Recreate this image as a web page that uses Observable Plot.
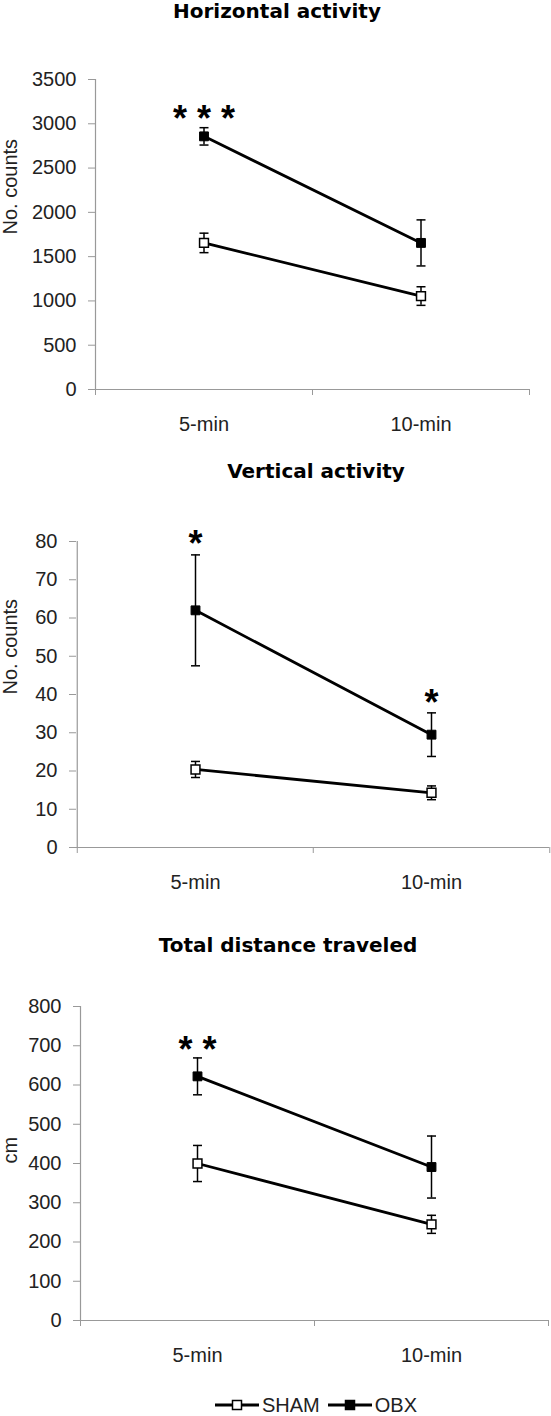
<!DOCTYPE html>
<html><head><meta charset="utf-8">
<script src="https://cdn.jsdelivr.net/npm/d3@7"></script>
<script src="https://cdn.jsdelivr.net/npm/@observablehq/plot@0.6"></script>
<style>
body{margin:0;background:#fff;}
#root{position:relative;width:551px;height:1416px;overflow:hidden;background:#fff;}
.title{position:absolute;width:400px;text-align:center;font-family:"DejaVu Sans",sans-serif;font-weight:bold;font-size:20px;line-height:24px;color:#000;white-space:nowrap;}
.panel{position:absolute;left:0;}
#legend{position:absolute;left:215px;top:1395px;height:20px;display:flex;align-items:center;font-family:"Liberation Sans",Arial,sans-serif;font-size:20px;line-height:20px;color:#222;white-space:nowrap;}
#legend .item{display:flex;align-items:center;height:20px;}
#legend .item + .item{margin-left:8px;}
#legend span{margin-left:3px;}
</style></head><body><div id="root"></div>
<script>
// Categories
const times = ["5-min", "10-min"];
const groups = ["SHAM", "OBX"];

// Horizontal activity (No. counts)
const horizSham = [1655, 1055];
const horizShamErr = [110, 105];
const horizObx = [2858, 1655];
const horizObxErr = [98, 260];
const horizTicks = [0, 500, 1000, 1500, 2000, 2500, 3000, 3500];
const horizStars = [{time: "5-min", y: 3150, label: "* * *"}];

// Vertical activity (No. counts)
const vertSham = [20.4, 14.3];
const vertShamErr = [2.1, 1.8];
const vertObx = [62.0, 29.5];
const vertObxErr = [14.5, 5.7];
const vertTicks = [0, 10, 20, 30, 40, 50, 60, 70, 80];
const vertStars = [{time: "5-min", y: 81.5, label: "*"}, {time: "10-min", y: 40.1, label: "*"}];

// Total distance traveled (cm)
const distSham = [400, 245];
const distShamErr = [46, 23];
const distObx = [622, 391];
const distObxErr = [47, 79];
const distTicks = [0, 100, 200, 300, 400, 500, 600, 700, 800];
const distStars = [{time: "5-min", y: 712, label: "* *"}];

const root = document.getElementById("root");
const W = 551;
const capSymbol = {draw(ctx) { ctx.moveTo(-4.5, 0); ctx.lineTo(4.5, 0); }};

function panel(cfg) {
  const rows = [];
  times.forEach((t, i) => {
    rows.push({group: groups[0], time: t, value: cfg.sham[i], err: cfg.shamErr[i]});
    rows.push({group: groups[1], time: t, value: cfg.obx[i], err: cfg.obxErr[i]});
  });
  const ymax = cfg.ticks[cfg.ticks.length - 1];
  const bw = (W - cfg.ml - cfg.mr) / times.length;
  const chart = Plot.plot({
    width: W,
    height: cfg.mt + cfg.h + cfg.mb,
    marginTop: cfg.mt, marginBottom: cfg.mb, marginLeft: cfg.ml, marginRight: cfg.mr,
    style: {fontFamily: "'Liberation Sans', Arial, sans-serif", fontSize: "20px", color: "#222", background: "transparent", overflow: "visible"},
    x: {type: "band", domain: times, padding: 0, label: null},
    y: {domain: [0, ymax], label: null},
    marks: [
      Plot.ruleY([0], {stroke: "#999", strokeWidth: 1.2}),
      Plot.ruleX([times[0]], {dx: -bw / 2, y1: 0, y2: ymax, stroke: "#999", strokeWidth: 1.2}),
      Plot.axisY({ticks: cfg.ticks, tickSize: 7, tickPadding: 12, stroke: "#999", fill: "#222", label: null, tickFormat: d => String(d)}),
      Plot.axisX({tickSize: 6, tickFormat: () => "", dx: -bw / 2, stroke: "#999", label: null}),
      Plot.axisX({ticks: [times[times.length - 1]], tickSize: 6, tickFormat: () => "", dx: bw / 2, stroke: "#999", label: null}),
      Plot.axisX({tickSize: 0, tickPadding: 27, fill: "#222", label: null}),
      Plot.text([cfg.ylabel], {frameAnchor: "left", dx: -(cfg.ml - 10), rotate: -90, text: d => d, fontSize: 20, fill: "#222"}),
      Plot.ruleX(rows, {x: "time", y1: d => d.value - d.err, y2: d => d.value + d.err, stroke: "#000", strokeWidth: 1.5}),
      Plot.dot(rows, {x: "time", y: d => d.value + d.err, symbol: capSymbol, fill: "none", stroke: "#000", strokeWidth: 1.5}),
      Plot.dot(rows, {x: "time", y: d => d.value - d.err, symbol: capSymbol, fill: "none", stroke: "#000", strokeWidth: 1.5}),
      Plot.line(rows, {x: "time", y: "value", z: "group", stroke: "#000", strokeWidth: 2.8}),
      Plot.dot(rows.filter(d => d.group === groups[0]), {x: "time", y: "value", symbol: "square", r: 5, fill: "#fff", stroke: "#000", strokeWidth: 1.5}),
      Plot.dot(rows.filter(d => d.group === groups[1]), {x: "time", y: "value", symbol: "square", r: 5, fill: "#000", stroke: "#000", strokeWidth: 1}),
      Plot.text(cfg.stars, {x: "time", y: "y", text: "label", fontSize: 36, fontWeight: "bold", fill: "#000", dy: 9})
    ]
  });
  chart.classList.add("panel");
  chart.style.top = cfg.top + "px";
  root.appendChild(chart);

  const t = document.createElement("div");
  t.className = "title";
  t.textContent = cfg.title;
  t.style.left = (cfg.tx - 200) + "px";
  t.style.top = cfg.ty + "px";
  root.appendChild(t);
}

panel({title: "Horizontal activity", ylabel: "No. counts", sham: horizSham, shamErr: horizShamErr, obx: horizObx, obxErr: horizObxErr,
  ticks: horizTicks, stars: horizStars, top: 30, mt: 49, h: 310, mb: 50, ml: 95, mr: 22, tx: 277, ty: -1});
panel({title: "Vertical activity", ylabel: "No. counts", sham: vertSham, shamErr: vertShamErr, obx: vertObx, obxErr: vertObxErr,
  ticks: vertTicks, stars: vertStars, top: 500, mt: 41, h: 306, mb: 50, ml: 76, mr: 2, tx: 316, ty: 459});
panel({title: "Total distance traveled", ylabel: "cm", sham: distSham, shamErr: distShamErr, obx: distObx, obxErr: distObxErr,
  ticks: distTicks, stars: distStars, top: 970, mt: 36, h: 314, mb: 50, ml: 80, mr: 3, tx: 288, ty: 933});

// Legend
const legend = document.createElement("div");
legend.id = "legend";
root.appendChild(legend);
groups.forEach(g => {
  const item = d3.select(legend).append("div").attr("class", "item");
  const svg = item.append("svg").attr("width", 44).attr("height", 20);
  svg.append("line").attr("x1", 0).attr("x2", 44).attr("y1", 10).attr("y2", 10).attr("stroke", "#000").attr("stroke-width", 2.8);
  svg.append("rect").attr("x", 17.5).attr("y", 5.5).attr("width", 9).attr("height", 9)
    .attr("fill", g === "OBX" ? "#000" : "#fff").attr("stroke", "#000").attr("stroke-width", 1.5);
  item.append("span").text(g);
});
</script>
</body></html>
